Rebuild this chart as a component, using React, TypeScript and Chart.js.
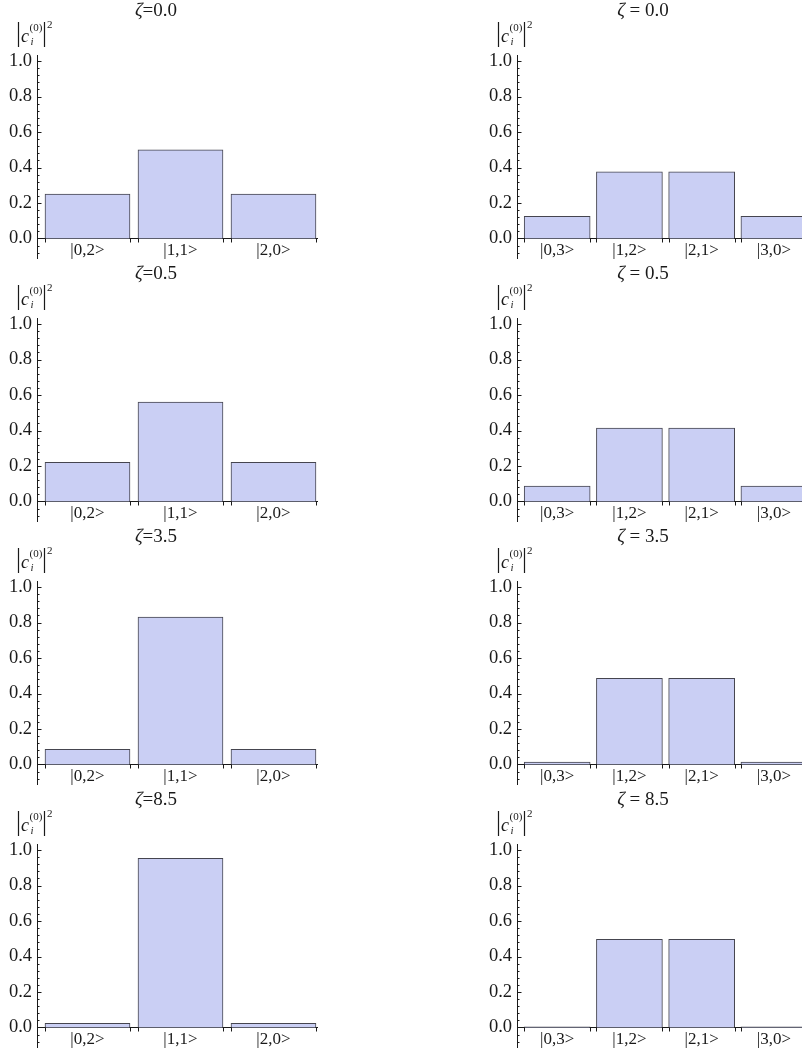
import React, { useEffect, useRef } from "react";
import { Chart, registerables } from "chart.js";

Chart.register(...registerables);

// ---- data ----
const leftCategories = ["|0,2>", "|1,1>", "|2,0>"];
const rightCategories = ["|0,3>", "|1,2>", "|2,1>", "|3,0>"];
const zetaValues = ["0.0", "0.5", "3.5", "8.5"];

const leftZeta00 = [0.25, 0.5, 0.25];
const leftZeta05 = [0.22, 0.56, 0.22];
const leftZeta35 = [0.085, 0.83, 0.085];
const leftZeta85 = [0.0235, 0.953, 0.0235];

const rightZeta00 = [0.125, 0.375, 0.375, 0.125];
const rightZeta05 = [0.087, 0.413, 0.413, 0.087];
const rightZeta35 = [0.014, 0.486, 0.486, 0.014];
const rightZeta85 = [0.003, 0.497, 0.497, 0.003];

const yTickValues = [0, 0.2, 0.4, 0.6, 0.8, 1.0];

const leftSeries = [leftZeta00, leftZeta05, leftZeta35, leftZeta85];
const rightSeries = [rightZeta00, rightZeta05, rightZeta35, rightZeta85];

// ---- styling ----
const FONT = "'Liberation Serif', 'Times New Roman', Tinos, serif";
const INK = "#1a1a1a";
const BAR_FILL = "#cacff4";
const BAR_EDGE = "#45454f";
const PANEL_W = 330;
const PANEL_H = 263;

type PanelProps = {
  categories: string[];
  values: number[];
  zeta: string;
  spaced: boolean;
  left: number;
  top: number;
  xMin: number;
  xMax: number;
  barThickness: number;
  plotRight: number;
  titleX: number;
};

function Panel(p: PanelProps) {
  const ref = useRef<HTMLCanvasElement | null>(null);

  useEffect(() => {
    if (!ref.current) return;

    const decor = {
      id: "decor",
      afterDraw(chart: any) {
        const ctx = chart.ctx as CanvasRenderingContext2D;
        const ys = chart.scales.y;
        const area = chart.chartArea;
        const ax = Math.round(area.left) + 0.5;
        ctx.save();
        ctx.strokeStyle = INK;
        ctx.lineWidth = 1;
        // inward major ticks
        for (const v of yTickValues) {
          const y = Math.round(ys.getPixelForValue(v)) + 0.5;
          ctx.beginPath();
          ctx.moveTo(ax, y);
          ctx.lineTo(ax + 4, y);
          ctx.stroke();
        }
        // inward minor ticks
        for (let k = -2; k <= 25; k++) {
          if (k % 5 === 0) continue;
          const v = k * 0.04;
          const y = Math.round(ys.getPixelForValue(v)) + 0.5;
          ctx.beginPath();
          ctx.moveTo(ax, y);
          ctx.lineTo(ax + 2, y);
          ctx.stroke();
        }
        // x ticks at bar edges
        const y0 = Math.round(ys.getPixelForValue(0)) + 0.5;
        const meta = chart.getDatasetMeta(0);
        meta.data.forEach((el: any) => {
          const half = el.width / 2;
          for (const xx of [el.x - half, el.x + half]) {
            const px = Math.round(xx) + 0.5;
            ctx.beginPath();
            ctx.moveTo(px, y0);
            ctx.lineTo(px, y0 + 4);
            ctx.stroke();
          }
        });

        // title
        ctx.fillStyle = INK;
        ctx.textBaseline = "alphabetic";
        const zetaFont = `italic 19px ${FONT}`;
        const restFont = `19px ${FONT}`;
        const rest = p.spaced ? ` = ${p.zeta}` : `=${p.zeta}`;
        ctx.font = zetaFont;
        const wz = ctx.measureText("ζ").width;
        ctx.font = restFont;
        const wr = ctx.measureText(rest).width;
        const tx = p.titleX - (wz + wr) / 2;
        ctx.font = zetaFont;
        ctx.fillText("ζ", tx, 16);
        ctx.font = restFont;
        ctx.fillText(rest, tx + wz, 16);

        // y label |c_i^(0)|^2
        ctx.lineWidth = 1.2;
        ctx.beginPath();
        ctx.moveTo(18.5, 22);
        ctx.lineTo(18.5, 47);
        ctx.moveTo(44.5, 22);
        ctx.lineTo(44.5, 47);
        ctx.stroke();
        ctx.font = `italic 18px ${FONT}`;
        ctx.fillText("c", 21, 42);
        ctx.font = `11px ${FONT}`;
        ctx.fillText("(0)", 29.5, 31);
        ctx.font = `italic 11px ${FONT}`;
        ctx.fillText("i", 30.5, 45);
        ctx.font = `11px ${FONT}`;
        ctx.fillText("2", 47, 28);
        ctx.restore();
      },
    };

    const chart = new Chart(ref.current, {
      type: "bar",
      data: {
        datasets: [
          {
            data: p.values.map((v, i) => ({ x: i + 1, y: v })),
            backgroundColor: BAR_FILL,
            borderColor: BAR_EDGE,
            borderWidth: 1,
            barThickness: p.barThickness,
            borderSkipped: "start",
          } as any,
        ],
      },
      options: {
        animation: false,
        responsive: false,
        maintainAspectRatio: false,
        layout: {
          padding: { left: 0, right: PANEL_W - p.plotRight, top: 55, bottom: 5 },
        },
        plugins: {
          legend: { display: false },
          tooltip: { enabled: false },
          title: { display: false },
        },
        scales: {
          x: {
            type: "linear",
            position: { y: 0 } as any,
            offset: false,
            min: p.xMin,
            max: p.xMax,
            grid: { display: false, drawTicks: false, offset: false },
            border: { display: true, color: INK, width: 1 },
            afterFit: (s: any) => {
              s.height = 0;
              s.paddingLeft = 0;
              s.paddingRight = 0;
              s.paddingTop = 0;
              s.paddingBottom = 0;
            },
            afterBuildTicks: (s: any) => {
              s.ticks = p.categories.map((_, i) => ({ value: i + 1 }));
            },
            ticks: {
              autoSkip: false,
              maxRotation: 0,
              padding: 2,
              color: INK,
              font: { family: FONT, size: 17 },
              callback: (v: any) => p.categories[Math.round(Number(v)) - 1] ?? "",
            },
          },
          y: {
            type: "linear",
            min: -0.11,
            max: 1.034,
            afterFit: (s: any) => {
              s.width = 37;
              s.paddingTop = 0;
              s.paddingBottom = 0;
              s.paddingLeft = 0;
              s.paddingRight = 0;
            },
            afterBuildTicks: (s: any) => {
              s.ticks = yTickValues.map((value) => ({ value }));
            },
            grid: { display: false, drawTicks: false },
            border: { display: true, color: INK, width: 1 },
            ticks: {
              padding: 5,
              color: INK,
              font: { family: FONT, size: 18.5 },
              callback: (v: any) => Number(v).toFixed(1),
            },
          },
        },
      },
      plugins: [decor],
    } as any);

    return () => chart.destroy();
  }, []);

  return (
    <canvas
      ref={ref}
      width={PANEL_W}
      height={PANEL_H}
      style={{
        position: "absolute",
        left: p.left,
        top: p.top,
        width: PANEL_W,
        height: PANEL_H,
        display: "block",
      }}
    />
  );
}

export default function App() {
  return (
    <div
      style={{
        position: "absolute",
        left: 0,
        top: 0,
        width: 802,
        height: 1055,
        overflow: "hidden",
        background: "#ffffff",
      }}
    >
      {zetaValues.map((z, r) => (
        <Panel
          key={"L" + r}
          categories={leftCategories}
          values={leftSeries[r]}
          zeta={z}
          spaced={false}
          left={0}
          top={r * PANEL_H}
          xMin={0.457}
          xMax={3.468}
          barThickness={85}
          plotRight={317}
          titleX={156}
        />
      ))}
      {zetaValues.map((z, r) => (
        <Panel
          key={"R" + r}
          categories={rightCategories}
          values={rightSeries[r]}
          zeta={z}
          spaced={true}
          left={480}
          top={r * PANEL_H}
          xMin={0.444}
          xMax={4.458}
          barThickness={66}
          plotRight={327}
          titleX={163}
        />
      ))}
    </div>
  );
}
